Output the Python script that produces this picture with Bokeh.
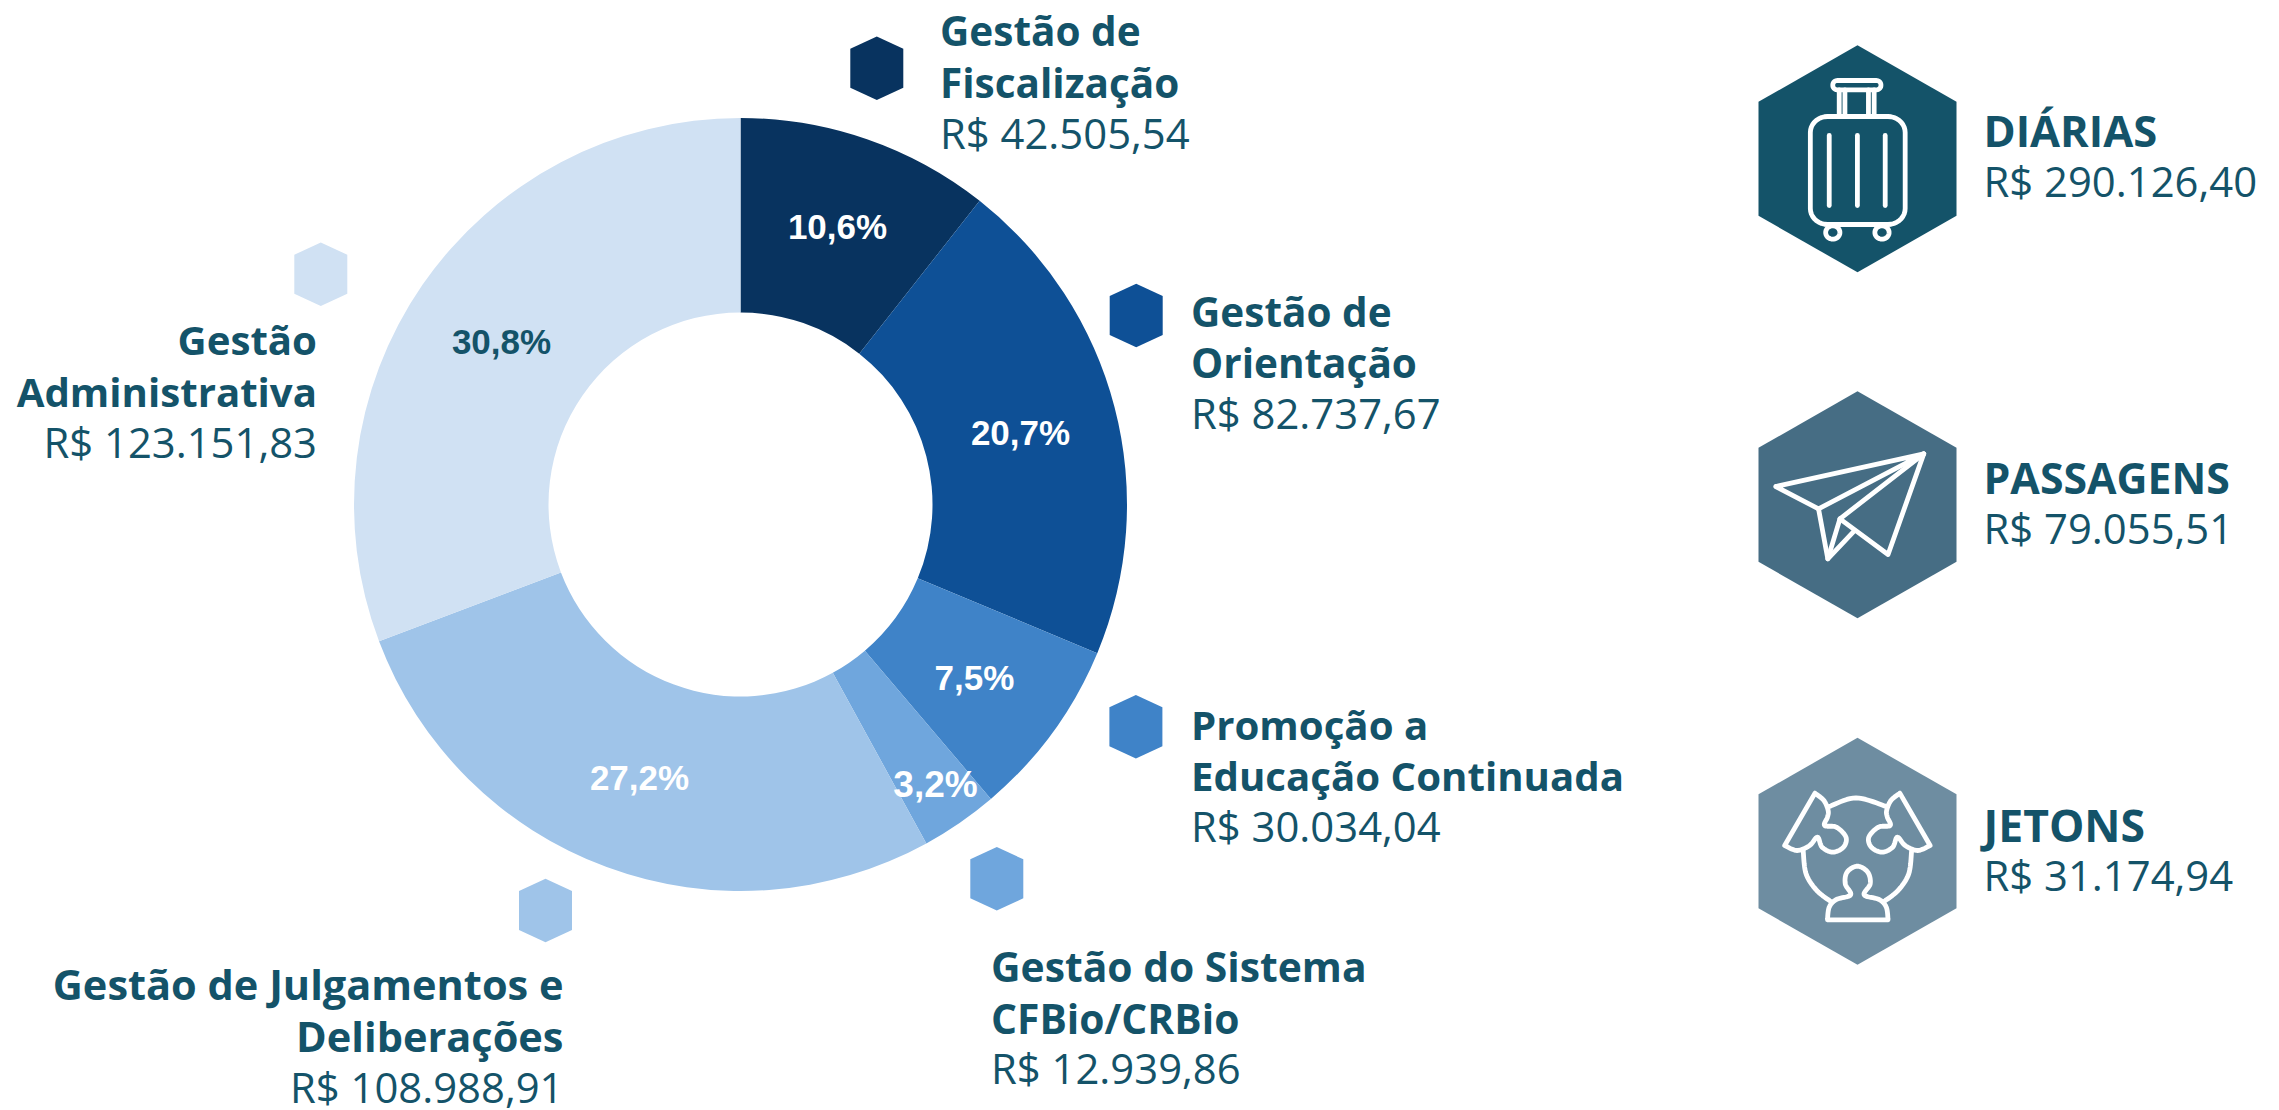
import math
import numpy as np
from bokeh.plotting import figure
from bokeh.models import Range1d
from bokeh.core.properties import value
from bokeh.embed import file_html
from bokeh.resources import INLINE

# ---------- data ----------
categories = ["Gestão de Fiscalização", "Gestão de Orientação", "Promoção a Educação Continuada",
              "Gestão do Sistema CFBio/CRBio", "Gestão de Julgamentos e Deliberações", "Gestão Administrativa"]
values = [42505.54, 82737.67, 30034.04, 12939.86, 108988.91, 123151.83]
value_labels = ["R$ 42.505,54", "R$ 82.737,67", "R$ 30.034,04", "R$ 12.939,86", "R$ 108.988,91", "R$ 123.151,83"]
percent_labels = ["10,6%", "20,7%", "7,5%", "3,2%", "27,2%", "30,8%"]
name_lines = [["Gestão de", "Fiscalização"], ["Gestão de", "Orientação"], ["Promoção a", "Educação Continuada"],
              ["Gestão do Sistema", "CFBio/CRBio"], ["Gestão de Julgamentos e", "Deliberações"], ["Gestão", "Administrativa"]]
colors = ["#08335F", "#0E5096", "#3F83C8", "#6FA6DD", "#9FC4E9", "#D0E1F3"]
percent_colors = ["#FFFFFF", "#FFFFFF", "#FFFFFF", "#FFFFFF", "#FFFFFF", "#145369"]

side_names = ["DIÁRIAS", "PASSAGENS", "JETONS"]
side_values = ["R$ 290.126,40", "R$ 79.055,51", "R$ 31.174,94"]
side_colors = ["#145369", "#466D84", "#6E8DA1"]

# ---------- layout (reference pixels) ----------
W, H = 2279, 1110
TEXT = "#145369"
FONT = "Open Sans"
NAME_SIZES = ["40.5px", "40.5px", "40.2px", "40.8px", "41.5px", "40.2px"]
SIDE_SIZES = ["43.5px", "42.8px", "44.5px"]
VAL_SIZE = "41.8px"
PCT_SIZES = ["35px", "35px", "35px", "37px", "35px", "35px"]
NAME_DY, VAL_DY, PCT_DY = -15, -16, -15
def Y(py):
    return 1110 - py

p = figure(width=W, height=H, output_backend="svg", toolbar_location=None,
           x_range=Range1d(0, W), y_range=Range1d(0, H), min_border=0,
           outline_line_color=None, background_fill_color="white", border_fill_color="white")
p.axis.visible = False
p.grid.visible = False

# donut
CX, CY, R_OUT, R_IN = 740, 504, 386.5, 192
fr = np.cumsum([0] + values) / sum(values)
starts = [math.pi / 2 - 2 * math.pi * f for f in fr[:-1]]
ends = [math.pi / 2 - 2 * math.pi * f for f in fr[1:]]
p.annular_wedge(x=[CX] * 6, y=[Y(CY)] * 6, inner_radius=R_IN, outer_radius=R_OUT,
                start_angle=starts, end_angle=ends, direction="clock",
                fill_color=colors, line_color=None)

# percentages
pct_pos = [(837, 241), (1020, 447), (974, 692), (935, 799), (639, 792), (501, 356)]
for (a, b), t, c, s in zip(pct_pos, percent_labels, percent_colors, PCT_SIZES):
    p.text(x=[a], y=[Y(b + PCT_DY)], text=[t], text_color=c, text_font=value("Liberation Sans"),
           text_font_style="bold", text_font_size=s, text_align="center", text_baseline="alphabetic")

# small hexagons
hex_pos = [(876.3, 67.7), (1135.7, 315), (1135.4, 726.3), (996.3, 878.3), (545, 910), (320.3, 273.7)]
def hexagon(cx, cy, hw, hh, sh):
    return ([cx, cx + hw, cx + hw, cx, cx - hw, cx - hw],
            [Y(cy - hh), Y(cy - sh), Y(cy + sh), Y(cy + hh), Y(cy + sh), Y(cy - sh)])
hx = [hexagon(a, b, 26.5, 31.7, 19.5) for a, b in hex_pos]
p.patches(xs=[h[0] for h in hx], ys=[h[1] for h in hx], fill_color=colors, line_color=None)

# category labels: x, baselines, alignment
label_pos = [(939.5, (45, 97, 148), "left"), (1190.5, (325.7, 377.3, 428.3), "left"),
             (1190.5, (739, 790, 841), "left"), (990.5, (980.7, 1032, 1083.3), "left"),
             (563, (998.3, 1050.7, 1101.7), "right"), (316.5, (354, 406, 456.7), "right")]
for (x, bases, align), lines, val, size in zip(label_pos, name_lines, value_labels, NAME_SIZES):
    for ln, b in zip(lines, bases[:2]):
        p.text(x=[x], y=[Y(b + NAME_DY)], text=[ln], text_color=TEXT, text_font=value(FONT), text_font_style="bold",
               text_font_size=size, text_align=align, text_baseline="alphabetic")
    p.text(x=[x], y=[Y(bases[2] + VAL_DY)], text=[val], text_color=TEXT, text_font=value(FONT),
           text_font_size=VAL_SIZE, text_align=align, text_baseline="alphabetic")

# big hexagons
BX = 1857
big_cy = [158.3, 504.3, 850.8]
bh = [hexagon(BX, c, 99, 113.5, 57) for c in big_cy]
p.patches(xs=[h[0] for h in bh], ys=[h[1] for h in bh], fill_color=side_colors, line_color=None)

side_base = [(145, 196), (491.7, 542.7), (838.7, 890)]
for nm, val, (b1, b2), size in zip(side_names, side_values, side_base, SIDE_SIZES):
    p.text(x=[1983], y=[Y(b1 + NAME_DY)], text=[nm], text_color=TEXT, text_font=value(FONT), text_font_style="bold",
           text_font_size=size, text_baseline="alphabetic")
    p.text(x=[1983], y=[Y(b2 + VAL_DY)], text=[val], text_color=TEXT, text_font=value(FONT),
           text_font_size=VAL_SIZE, text_baseline="alphabetic")

# ---------- icon helpers: shapes given in crop coordinates, mapped to the page ----------
SX = 2.805
def mapper(oy):
    def m(pts):
        return [1720 + q[0] / SX for q in pts], [Y(oy + q[1] / 3) for q in pts]
    return m

def rrect(x0, y0, x1, y1, r):
    pts = []
    for cx, cy, a0 in [(x1 - r, y0 + r, -90), (x1 - r, y1 - r, 0), (x0 + r, y1 - r, 90), (x0 + r, y0 + r, 180)]:
        for a in np.linspace(a0, a0 + 90, 10):
            pts.append((cx + r * math.cos(math.radians(a)), cy + r * math.sin(math.radians(a))))
    pts.append(pts[0])
    return pts

def circle(cx, cy, r):
    return [(cx + r * math.cos(t), cy + r * math.sin(t)) for t in np.linspace(0, 2 * math.pi, 40)]

def spline(pts, n=10):
    P = [pts[0]] + list(pts) + [pts[-1]]
    out = []
    for i in range(1, len(P) - 2):
        p0, p1, p2, p3 = map(np.array, (P[i - 1], P[i], P[i + 1], P[i + 2]))
        for t in np.linspace(0, 1, n, endpoint=False):
            out.append(tuple(0.5 * ((2 * p1) + (p2 - p0) * t + (2 * p0 - 5 * p1 + 4 * p2 - p3) * t ** 2
                                    + (3 * p1 - p0 - 3 * p2 + p3) * t ** 3)))
    out.append(tuple(pts[-1]))
    return out

def draw(paths, oy, width=4.8):
    m = mapper(oy)
    mapped = [m(q) for q in paths]
    p.multi_line(xs=[a for a, b in mapped], ys=[b for a, b in mapped], line_color="white", line_width=width,
                 line_join="round", line_cap="round")

# suitcase
draw([rrect(252, 198, 518, 522, 48), rrect(315, 90, 450, 118, 13),
      [(333, 118), (333, 198)], [(349, 118), (349, 198)], [(415, 118), (415, 198)], [(431, 118), (431, 198)],
      [(305, 255), (305, 465)], [(384, 255), (384, 465)], [(462, 255), (462, 465)],
      circle(315, 546, 20), circle(453, 546, 20)], 50)

# paper plane
draw([[(155, 348), (570, 250), (275, 415), (155, 348)],
      [(275, 415), (301, 565), (372, 485)],
      [(570, 250), (335, 445), (301, 565)],
      [(335, 445), (470, 552), (570, 250)]], 370)

# puzzle with person
left_piece = [(265, 278), (290, 300), (302, 330), (300, 350), (292, 375), (325, 380), (352, 410), (345, 440),
              (315, 455), (285, 440), (272, 410), (250, 435), (215, 450), (180, 435)]
left_arc = [(232, 452), (240, 520), (270, 570), (308, 602)]
top_arc = [(305, 318), (380, 292), (465, 318)]
person = [(300, 658), (305, 620), (325, 597), (365, 583), (350, 550), (355, 515), (384, 497), (413, 515),
          (420, 550), (403, 583), (445, 597), (465, 620), (470, 658)]
mirror = lambda pts: [(768 - a, b) for a, b in pts]
draw([spline(left_piece) + [(265, 278)], spline(mirror(left_piece)) + [(503, 278)],
      spline(left_arc), spline(mirror(left_arc)), spline(top_arc), spline(person) + [(300, 658)]], 700)

open("out.html", "w").write(file_html(p, INLINE))
